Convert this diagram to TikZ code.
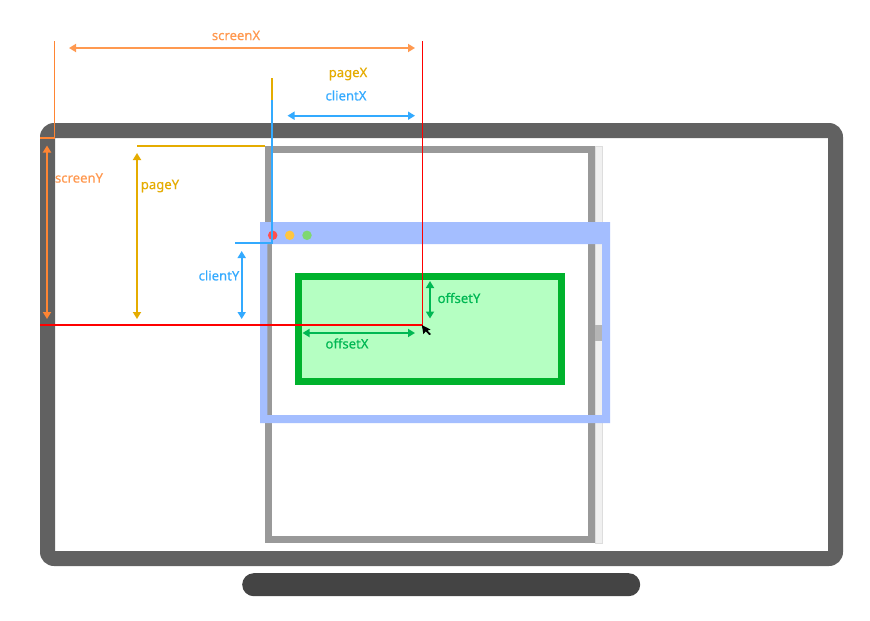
\documentclass[tikz,border=0pt]{standalone}
\usepackage{fontspec}
\setmainfont{Noto Sans}
\newfontfamily\labfont[FakeBold=0.35]{Noto Sans}
\usetikzlibrary{arrows.meta}
\definecolor{mon}{HTML}{616161}
\definecolor{standc}{HTML}{444444}
\definecolor{pagec}{HTML}{999999}
\definecolor{barbg}{HTML}{F0F0F0}
\definecolor{barline}{HTML}{DDDDDD}
\definecolor{thumb}{HTML}{B5B5B5}
\definecolor{brow}{HTML}{A4BEFF}
\definecolor{gbox}{HTML}{00B22D}
\definecolor{gfill}{HTML}{B5FFC2}
\definecolor{orangec}{HTML}{FF8533}
\definecolor{orangel}{HTML}{FF9950}
\definecolor{yellowc}{HTML}{E5AC00}
\definecolor{bluec}{HTML}{33AAFF}
\definecolor{greenc}{HTML}{00B853}
\definecolor{redc}{HTML}{FF0000}
\tikzset{
  x=1pt,y=-1pt,
  dim/.style={line width=1.7pt,{Triangle[length=7pt,width=8pt]}-{Triangle[length=7pt,width=8pt]}},
  guide/.style={line width=1.5pt},
  lab/.style={font=\fontsize{13.1pt}{14pt}\labfont,inner sep=0pt,anchor=center},
  dot/.style={circle,minimum size=9.5pt,inner sep=0pt},
}
\begin{document}
\begin{tikzpicture}
\useasboundingbox (0,0) rectangle (870,621);
\fill[white] (0,0) rectangle (870,621);
% monitor
\fill[mon,even odd rule]
  [rounded corners=14pt] (40,123) rectangle (843,566)
  [sharp corners] (55,138) rectangle (828,551);
\node[fill=standc,rounded corners=11.5pt,minimum width=398pt,minimum height=23pt,inner sep=0pt,anchor=north west] (stand) at (242,573) {};
% page and scrollbar
\draw[barline,fill=barbg,line width=0.6pt] (595,146.3) rectangle (602,543);
\fill[thumb] (595.3,325) rectangle (602,341);
\draw[pagec,line width=7pt] (268.7,149.4) rectangle (591.5,539.7);
% browser window
\fill[brow,even odd rule] (260,222) rectangle (610,423) (267.3,244) rectangle (602,415);
\node[dot,fill={rgb,255:red,255;green,80;blue,80}] (dotr) at (272.7,235.3) {};
\node[dot,fill={rgb,255:red,255;green,198;blue,64}] (doty) at (289.7,235.3) {};
\node[dot,fill={rgb,255:red,127;green,216;blue,112}] (dotg) at (307,235.3) {};
% target element
\draw[gbox,fill=gfill,line width=7pt] (298.3,276.8) rectangle (561,381.7);
% guide coordinates
\coordinate (rt) at (422.4,41);
\coordinate (rc) at (422.4,325);
\coordinate (rl) at (40,325);
\coordinate (ot) at (54.5,41);
\coordinate (oc) at (54.5,138);
\coordinate (ol) at (40,138);
\coordinate (yt) at (272,78);
\coordinate (ym) at (272,100);
\coordinate (bc) at (272,243);
\coordinate (bl) at (235,243);
\coordinate (pyl) at (137,146);
\coordinate (pyr) at (265,146);
% guides
\draw[yellowc,guide] (yt) -- (ym);
\draw[bluec,guide] (ym) -- (bc) -- (bl);
\draw[yellowc,guide] (pyl) -- (pyr);
\draw[orangec,guide] (ot) -- (oc) -- (ol);
\draw[color=redc,line width=1.4pt,line join=miter] (rt) -- (rc) -- (rl);
% cursor
\fill[black] (421.8,325) -- (430.6,329.6) -- (427.5,330.6) -- (431,334.2) -- (429.2,335) -- (425.8,331.3) -- (423.4,334.2) -- cycle;
% dimension arrows
\coordinate (a1) at (69,48); \coordinate (a2) at (415,48);
\draw[orangel,dim] (a1) -- (a2);
\coordinate (a3) at (47,145.5); \coordinate (a4) at (47,319);
\draw[orangec,dim] (a3) -- (a4);
\coordinate (a5) at (137,153); \coordinate (a6) at (137,319);
\draw[yellowc,dim] (a5) -- (a6);
\coordinate (a7) at (287.5,115.7); \coordinate (a8) at (415,115.7);
\draw[bluec,dim] (a7) -- (a8);
\coordinate (a9) at (241.7,251); \coordinate (a10) at (241.7,319);
\draw[bluec,dim] (a9) -- (a10);
\coordinate (a11) at (302.5,333); \coordinate (a12) at (415,333);
\draw[greenc,dim] (a11) -- (a12);
\coordinate (a13) at (430,281); \coordinate (a14) at (430,318.5);
\draw[greenc,dim] (a13) -- (a14);
% labels
\node[lab,text=orangel] (lsx) at (236,35.5) {screenX};
\node[lab,text=yellowc] (lpx) at (348,74) {pageX};
\node[lab,text=bluec] (lcx) at (346,95.5) {clientX};
\node[lab,text=orangel] (lsy) at (79,178) {screenY};
\node[lab,text=yellowc] (lpy) at (160,186) {pageY};
\node[lab,text=bluec] (lcy) at (219,275.5) {clientY};
\node[lab,text=greenc] (loy) at (459,298) {offsetY};
\node[lab,text=greenc] (lox) at (347,343.5) {offsetX};
\end{tikzpicture}
\end{document}
